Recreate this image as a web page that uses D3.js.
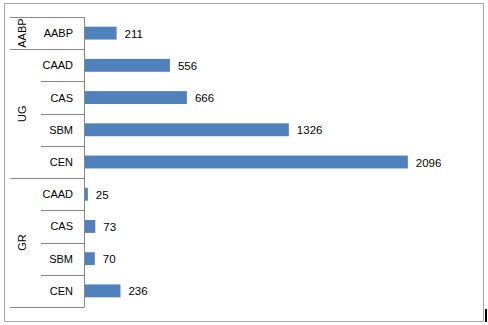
<!DOCTYPE html>
<html><head><meta charset="utf-8">
<script src="https://cdn.jsdelivr.net/npm/d3@7"></script>
<style>html,body{margin:0;padding:0;background:#fff;}svg{display:block;font-family:"Liberation Sans",Arial,sans-serif;}</style>
</head><body>
<svg id="c" width="488" height="325"></svg>
<script>
const groups = ["AABP","UG","GR"];
const categories = [["AABP"],["CAAD","CAS","SBM","CEN"],["CAAD","CAS","SBM","CEN"]];
const values = [[211],[556,666,1326,2096],[25,73,70,236]];

(function(){
const rows = [];
groups.forEach((g,gi)=>categories[gi].forEach((c,ci)=>rows.push({g,gi,c,ci,v:values[gi][ci],key:g+"|"+c})));

const svg = d3.select("#c");
const plotLeft = 84, plotTop = 17, plotBottom = 307;
const x = d3.scaleLinear().domain([0,2500]).range([plotLeft, plotLeft + 0.1545*2500]);
const y = d3.scaleBand().domain(rows.map(r=>r.key)).range([plotTop,plotBottom]).paddingInner(0.6).paddingOuter(0.3);
const yb = d3.scaleBand().domain(rows.map(r=>r.key)).range([plotTop,plotBottom]);

svg.append("rect").attr("x",4.5).attr("y",3.5).attr("width",479).attr("height",318)
  .attr("fill","none").attr("stroke","#a6a6a6").attr("stroke-width",1);

const lineColor = "#868686";
svg.append("line").attr("x1",plotLeft+0.5).attr("x2",plotLeft+0.5).attr("y1",plotTop).attr("y2",plotBottom+0.5)
  .attr("stroke",lineColor);

const bounds = [];
rows.forEach(r=>bounds.push({y:yb(r.key), group:r.ci===0}));
bounds.push({y:plotBottom, group:true});
svg.selectAll("line.b").data(bounds).join("line").attr("class","b")
  .attr("x1",d=>d.group?10:41).attr("x2",plotLeft)
  .attr("y1",d=>Math.round(d.y)+0.5).attr("y2",d=>Math.round(d.y)+0.5)
  .attr("stroke",lineColor);

svg.selectAll("text.cat").data(rows).join("text").attr("class","cat")
  .attr("x",73).attr("y",d=>yb(d.key)+yb.bandwidth()/2+4)
  .attr("text-anchor","end").attr("font-size",11).attr("fill","#000").text(d=>d.c);

groups.forEach((g,gi)=>{
  const gr = rows.filter(r=>r.gi===gi);
  const y0 = yb(gr[0].key), y1 = yb(gr[gr.length-1].key)+yb.bandwidth();
  const cy = (y0+y1)/2;
  svg.append("text").attr("transform",`translate(26,${cy}) rotate(-90)`)
    .attr("text-anchor","middle").attr("font-size",11).attr("fill","#000").text(g);
});

svg.selectAll("rect.bar").data(rows).join("rect").attr("class","bar")
  .attr("x",x(0)+1).attr("y",d=>y(d.key)).attr("width",d=>x(d.v)-x(0)-1).attr("height",y.bandwidth())
  .attr("fill","#4f81bd");

svg.selectAll("text.val").data(rows).join("text").attr("class","val")
  .attr("x",d=>x(d.v)+8).attr("y",d=>y(d.key)+y.bandwidth()/2+4.5)
  .attr("font-size",11.5).attr("fill","#000").text(d=>d.v);

svg.append("rect").attr("x",485).attr("y",309).attr("width",2).attr("height",13).attr("fill","#000");
})();
</script>
</body></html>
